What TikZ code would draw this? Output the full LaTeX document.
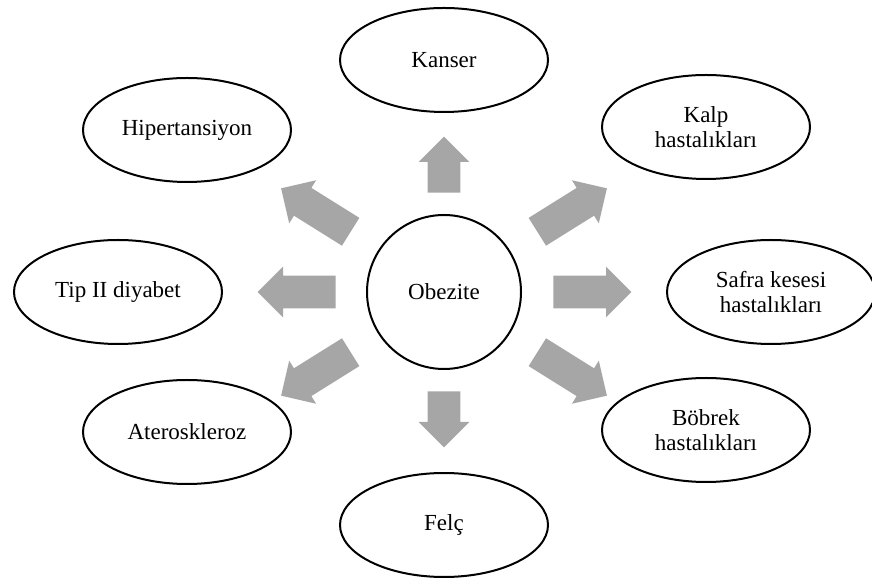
\documentclass[tikz,border=0pt]{standalone}
\usepackage{fontspec}
\setmainfont{Liberation Serif}
\usetikzlibrary{shapes.geometric,shapes.arrows}
\definecolor{arrowgray}{HTML}{A6A6A6}
\tikzset{
  disease/.style={ellipse, draw, line width=1pt, minimum width=104pt,
    minimum height=52pt, inner sep=0pt, align=center},
  bigarrow/.style={single arrow, fill=arrowgray, draw=none, minimum height=#1,
    minimum width=25pt, inner xsep=0pt, inner ysep=8pt,
    single arrow head extend=4.5pt, anchor=tail},
}
\begin{document}
\begin{tikzpicture}[x=0.5pt, y=-0.5pt, font=\fontsize{11.5}{12.5}\selectfont]
  \useasboundingbox (0,0) rectangle (872,581);
  % center
  \node[circle, draw, line width=1pt, minimum size=77pt, inner sep=0pt] (obz) at (444,292) {Obezite};
  % outer ellipses
  \node[disease] (kanser) at (444,60)  {Kanser};
  \node[disease] (kalp)   at (706,127) {Kalp\\hastalıkları};
  \node[disease] (safra)  at (771,292) {Safra kesesi\\hastalıkları};
  \node[disease] (bobrek) at (706,430) {Böbrek\\hastalıkları};
  \node[disease] (felc)   at (444,525) {Felç};
  \node[disease] (ater)   at (187,432) {Ateroskleroz};
  \node[disease] (tip)    at (118,292) {Tip II diyabet};
  \node[disease] (hiper)  at (187,130) {Hipertansiyon};
  % block arrows, placed by their tails
  \node[bigarrow=28pt, rotate=90]   (a1) at (444,193) {};
  \node[bigarrow=41pt, rotate=32]   (a2) at (537,232) {};
  \node[bigarrow=39pt, rotate=0]    (a3) at (553,292) {};
  \node[bigarrow=41pt, rotate=-32]  (a4) at (537,352) {};
  \node[bigarrow=28pt, rotate=-90]  (a5) at (444,391) {};
  \node[bigarrow=41pt, rotate=212]  (a6) at (351,352) {};
  \node[bigarrow=39pt, rotate=180]  (a7) at (336,292) {};
  \node[bigarrow=41pt, rotate=148]  (a8) at (351,232) {};
\end{tikzpicture}
\end{document}
